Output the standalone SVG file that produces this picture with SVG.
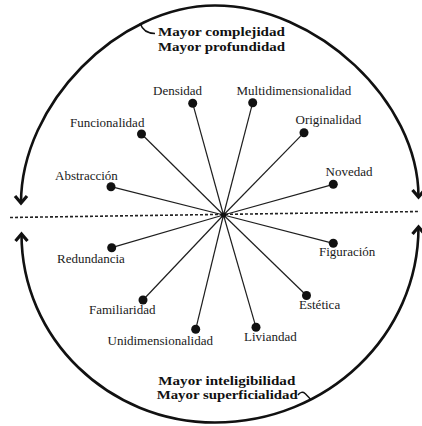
<svg xmlns="http://www.w3.org/2000/svg" width="422" height="426" viewBox="0 0 422 426">
  <style>
    .lbl { font-family: "Liberation Serif", "Times New Roman", serif; font-size: 13px; fill: #1a1a1a; }
    .big { font-family: "Liberation Serif", "Times New Roman", serif; font-size: 13.5px; font-weight: bold; fill: #111; }
    .spoke { stroke: #1e1e1e; stroke-width: 1.2; fill: none; }
    .dot { fill: #111; }
    .arc { stroke: #111; stroke-width: 2.6; fill: none; marker-start: url(#chev); marker-end: url(#chev); }
    .leader { stroke: #111; stroke-width: 1.5; fill: none; }
    .axis { stroke: #222; stroke-width: 1.6; stroke-dasharray: 3 2; fill: none; }
  </style>
  <defs>
    <marker id="chev" viewBox="-12 -9 16 18" refX="0" refY="0" markerWidth="16" markerHeight="18" markerUnits="userSpaceOnUse" orient="auto-start-reverse" overflow="visible">
      <path d="M -7,-6 L 0,0 L -7,6" fill="none" stroke="#111" stroke-width="3.2"/>
    </marker>
  </defs>
  <rect width="422" height="426" fill="#ffffff"/>

  <g id="connectors">
    <path class="arc" d="M 21,203 C 21,104.25 118,5.5 215,5.5 C 316.75,5.5 418.5,101.25 418.5,197"/>
    <path class="arc" d="M 21.5,234 C 21.5,338.1 108.1,422.5 215,422.5 C 327.4,422.5 418.5,335 418.5,227"/>
    <path class="leader" d="M 140,23 C 142,29 146,33.5 155,33.5"/>
    <path class="leader" d="M 298,395 C 300,392 303,391.5 305,393.5 C 307,395.5 309,397 311,400"/>
    <line class="axis" x1="10" y1="217.5" x2="420" y2="211.5"/>
    <line class="spoke" x1="223.5" y1="215" x2="192.7" y2="103.3"/>
    <line class="spoke" x1="223.5" y1="215" x2="252.7" y2="102.7"/>
    <line class="spoke" x1="223.5" y1="215" x2="141.5" y2="134"/>
    <line class="spoke" x1="223.5" y1="215" x2="304" y2="132.7"/>
    <line class="spoke" x1="223.5" y1="215" x2="111" y2="186.7"/>
    <line class="spoke" x1="223.5" y1="215" x2="333.3" y2="184.3"/>
    <line class="spoke" x1="223.5" y1="215" x2="111.7" y2="247.7"/>
    <line class="spoke" x1="223.5" y1="215" x2="333.3" y2="243.3"/>
    <line class="spoke" x1="223.5" y1="215" x2="143" y2="300"/>
    <line class="spoke" x1="223.5" y1="215" x2="306.5" y2="295.5"/>
    <line class="spoke" x1="223.5" y1="215" x2="195.7" y2="329.3"/>
    <line class="spoke" x1="223.5" y1="215" x2="256" y2="327.3"/>
  </g>

  <g id="center"><circle class="dot" cx="223.5" cy="215" r="2.6"/></g>

  <g id="top-label">
    <text class="big" x="158" y="36.3" textLength="127" lengthAdjust="spacingAndGlyphs">Mayor complejidad</text>
    <text class="big" x="158" y="51" textLength="127" lengthAdjust="spacingAndGlyphs">Mayor profundidad</text>
  </g>
  <g id="bottom-label">
    <text class="big" x="158.3" y="385" textLength="137" lengthAdjust="spacingAndGlyphs">Mayor inteligibilidad</text>
    <text class="big" x="156.7" y="399" textLength="141" lengthAdjust="spacingAndGlyphs">Mayor superficialidad</text>
  </g>

  <g id="node-densidad"><circle class="dot" cx="192.7" cy="103.3" r="4.5"/><text class="lbl" x="153" y="95">Densidad</text></g>
  <g id="node-multidimensionalidad"><circle class="dot" cx="252.7" cy="102.7" r="4.5"/><text class="lbl" x="236.5" y="95">Multidimensionalidad</text></g>
  <g id="node-funcionalidad"><circle class="dot" cx="141.5" cy="134" r="4.5"/><text class="lbl" x="70" y="126.5">Funcionalidad</text></g>
  <g id="node-originalidad"><circle class="dot" cx="304" cy="132.7" r="4.5"/><text class="lbl" x="295.5" y="124.3">Originalidad</text></g>
  <g id="node-abstraccion"><circle class="dot" cx="111" cy="186.7" r="4.5"/><text class="lbl" x="55" y="180">Abstracción</text></g>
  <g id="node-novedad"><circle class="dot" cx="333.3" cy="184.3" r="4.5"/><text class="lbl" x="325.5" y="176">Novedad</text></g>
  <g id="node-redundancia"><circle class="dot" cx="111.7" cy="247.7" r="4.5"/><text class="lbl" x="57" y="262.5">Redundancia</text></g>
  <g id="node-figuracion"><circle class="dot" cx="333.3" cy="243.3" r="4.5"/><text class="lbl" x="319" y="255.5">Figuración</text></g>
  <g id="node-familiaridad"><circle class="dot" cx="143" cy="300" r="4.5"/><text class="lbl" x="89" y="314.3">Familiaridad</text></g>
  <g id="node-estetica"><circle class="dot" cx="306.5" cy="295.5" r="4.5"/><text class="lbl" x="299" y="309.3">Estética</text></g>
  <g id="node-unidimensionalidad"><circle class="dot" cx="195.7" cy="329.3" r="4.5"/><text class="lbl" x="107.5" y="345">Unidimensionalidad</text></g>
  <g id="node-liviandad"><circle class="dot" cx="256" cy="327.3" r="4.5"/><text class="lbl" x="244" y="340.5">Liviandad</text></g>
</svg>
